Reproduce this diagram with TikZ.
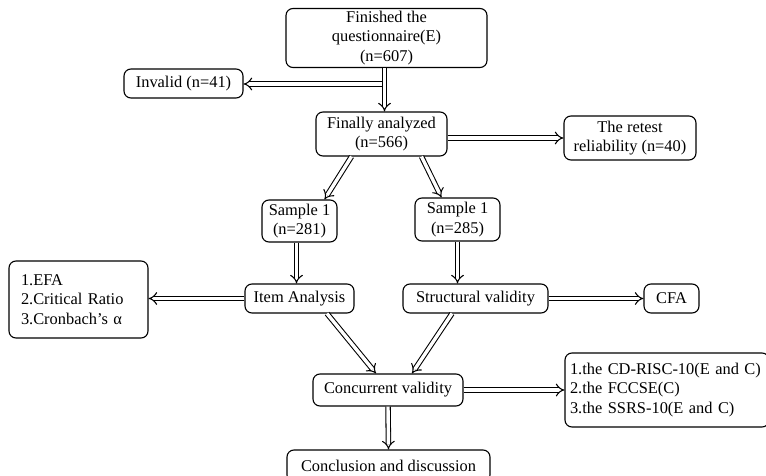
\documentclass[tikz,border=0pt]{standalone}
\usepackage{fontspec}
\setmainfont{Liberation Serif}
\usetikzlibrary{arrows.meta}
\begin{document}
\begin{tikzpicture}[x=1pt,y=-1pt,
  box/.style={draw, rounded corners=7pt, line width=1.1pt, align=center, inner sep=2pt,
    font=\fontsize{16.4}{19.5}\selectfont},
  lbox/.style={box, align=left, text width=#1},
  flow/.style={draw, double, double distance=3.4pt, line width=1.05pt, -{Implies}},
]
\useasboundingbox (0,0) rectangle (766,476);
\node[box, minimum width=201pt, minimum height=59pt] (top) at (386.5,38) {Finished the\\questionnaire(E)\\(n=607)};
\node[box, minimum width=119pt, minimum height=29pt] (invalid) at (183.5,83.5) {Invalid (n=41)};
\node[box, minimum width=131pt, minimum height=44pt] (final) at (381.5,134) {Finally analyzed\\(n=566)};
\node[box, minimum width=132pt, minimum height=44pt] (retest) at (630,138) {The retest\\reliability (n=40)};
\node[box, minimum width=75pt, minimum height=42pt] (s1) at (299.5,221) {Sample 1\\(n=281)};
\node[box, minimum width=85pt, minimum height=43pt] (s2) at (457.5,219.5) {Sample 1\\(n=285)};
\node[box, minimum width=109pt, minimum height=29pt] (item) at (299.5,298.5) {Item Analysis};
\node[box, minimum width=145pt, minimum height=29pt] (struct) at (475.5,298.5) {Structural validity};
\node[box, minimum width=55pt, minimum height=29pt] (cfa) at (671.5,298.5) {CFA};
\node[lbox=115pt, minimum height=77pt, inner xsep=12pt] (left) at (78.5,299.5) {1.EFA\\2.Critical Ratio\\3.Cronbach’s α};
\node[lbox=194pt, minimum height=74pt, inner xsep=5pt] (right) at (667,390) {1.the CD-RISC-10(E and C)\\2.the FCCSE(C)\\3.the SSRS-10(E and C)};
\node[box, minimum width=150pt, minimum height=32pt] (conc) at (388,390) {Concurrent validity};
\node[box, minimum width=203pt, minimum height=32pt] (concl) at (388.5,466) {Conclusion and discussion};
\coordinate (j) at (384.5,84);
\draw[flow] (top.south -| j) -- (final.north -| j);
\draw[flow] ([xshift=-3pt]j) -- (invalid.east |- j);
\draw[flow] (final.east |- retest.west) -- (retest.west);
\draw[flow] ([xshift=-30pt]final.south) -- ([xshift=25pt]s1.north);
\draw[flow] ([xshift=40pt]final.south) -- ([xshift=-16pt]s2.north);
\draw[flow] ([xshift=-3pt]s1.south) -- ([xshift=-3pt]item.north);
\draw[flow] (s2.south) -- (s2.south |- struct.north);
\draw[flow] (item.west) -- (left.east |- item.west);
\draw[flow] (struct.east) -- (cfa.west);
\draw[flow] ([xshift=27.5pt]item.south) -- ([xshift=-12pt]conc.north);
\draw[flow] ([xshift=-23.5pt]struct.south) -- ([xshift=24pt]conc.north);
\draw[flow] (conc.east) -- (right.west |- conc.east);
\draw[flow] (conc.south) -- (concl.north);
\end{tikzpicture}
\end{document}
